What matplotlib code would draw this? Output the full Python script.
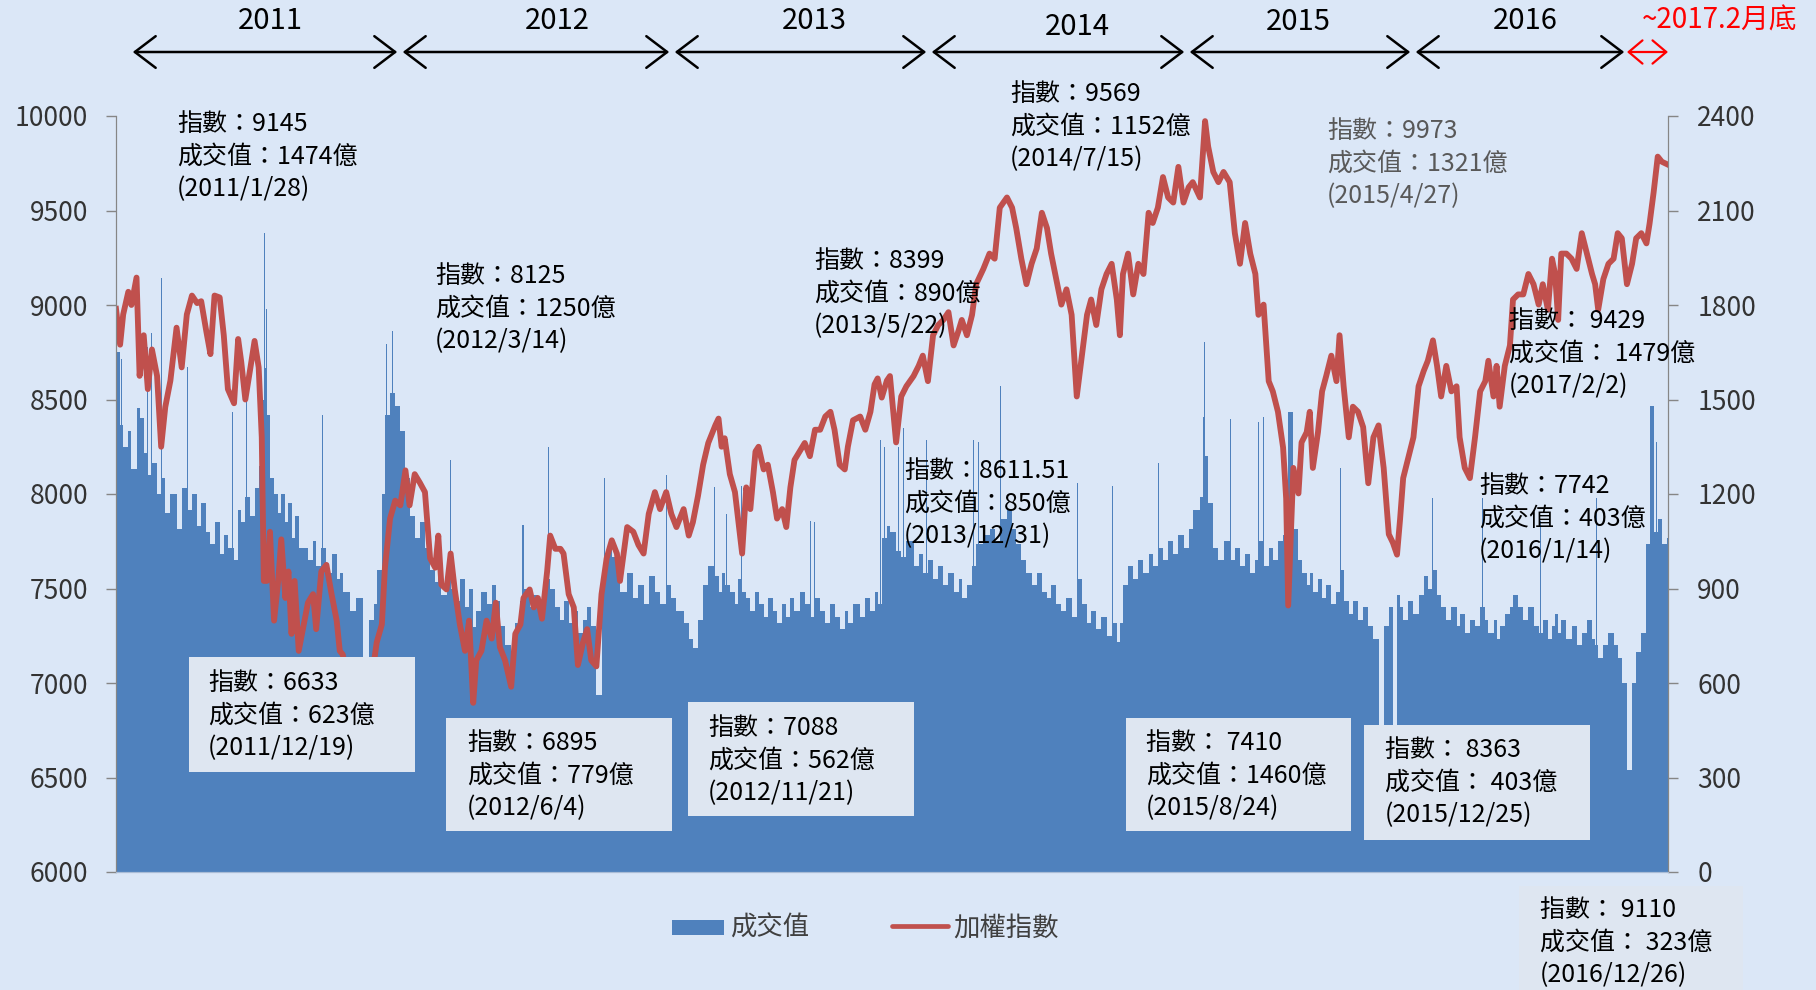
import numpy as np
import matplotlib.pyplot as plt
from matplotlib.patches import Rectangle, FancyArrowPatch
from matplotlib.lines import Line2D

plt.rcParams['font.family'] = ['Noto Sans CJK TC', 'DejaVu Sans']

# trading-day number (0 = 2011/1/3) with the weighted index and turnover (億)
day = [0, 4, 7, 12, 15, 20, 23, 27, 31, 35, 40, 44, 48, 53, 59, 64, 69, 74, 79, 83,
       88, 92, 96, 101, 105, 109, 115, 119, 122, 126, 131, 135, 139, 142, 144, 147, 150, 154, 158, 161,
       165, 168, 171, 174, 178, 187, 192, 195, 200, 205, 210, 215, 218, 221, 228, 234, 241, 246, 251, 254,
       259, 262, 267, 272, 277, 282, 286, 291, 296, 301, 306, 311, 314, 317, 322, 326, 330, 335, 340, 344,
       348, 351, 356, 361, 366, 370, 374, 379, 385, 389, 394, 397, 403, 407, 411, 415, 420, 423, 428, 433,
       436, 441, 446, 450, 455, 459, 463, 468, 473, 478, 483, 488, 491, 498, 504, 509, 514, 519, 525, 530,
       536, 541, 546, 553, 558, 562, 567, 572, 577, 584, 587, 590, 593, 598, 603, 606, 610, 614, 618, 623,
       626, 631, 635, 640, 644, 649, 653, 657, 661, 666, 671, 676, 681, 686, 691, 696, 700, 705, 710, 713,
       718, 725, 730, 735, 739, 742, 746, 751, 754, 760, 765, 770, 777, 782, 786, 791, 796, 801, 806, 811,
       816, 821, 824, 829, 834, 838, 845, 851, 856, 861, 868, 873, 877, 882, 887, 892, 897, 902, 907, 911,
       916, 921, 926, 931, 936, 941, 946, 950, 955, 960, 965, 970, 975, 978, 981, 986, 991, 996, 1001, 1006,
       1010, 1015, 1020, 1025, 1030, 1035, 1040, 1045, 1049, 1056, 1061, 1064, 1069, 1074, 1079, 1085, 1090, 1095, 1100, 1105,
       1110, 1113, 1118, 1123, 1127, 1132, 1137, 1140, 1142, 1147, 1152, 1155, 1160, 1163, 1166, 1171, 1175, 1179, 1184, 1189,
       1192, 1196, 1201, 1205, 1210, 1215, 1220, 1225, 1230, 1235, 1240, 1244, 1248, 1251, 1254, 1259, 1264, 1269, 1274, 1278,
       1283, 1287, 1291, 1296, 1301, 1306, 1309, 1314, 1319, 1324, 1329, 1334, 1337, 1342, 1345, 1348, 1353, 1358, 1361, 1366,
       1371, 1376, 1381, 1386, 1390, 1395, 1399, 1402, 1405, 1408, 1413, 1418, 1423, 1428, 1433, 1438, 1441, 1444, 1449, 1454,
       1459, 1463, 1467, 1472, 1477, 1481, 1486, 1491, 1494, 1498, 1502, 1506, 1511]

taiex = [8980, 8790, 8950, 9070, 9000, 9145, 8625, 8840, 8555, 8765, 8625, 8250, 8460, 8600, 8880, 8670, 8950, 9050, 9010, 9020,
         8860, 8740, 9050, 9040, 8840, 8555, 8480, 8820, 8700, 8500, 8670, 8810, 8670, 8300, 7540, 7540, 7800, 7330, 7540, 7760,
         7450, 7590, 7260, 7540, 7170, 7425, 7470, 7285, 7590, 7625, 7470, 7330, 7170, 7150, 6900, 6750, 6633, 6950, 7100, 7215,
         7310, 7610, 7870, 7965, 7940, 8125, 7940, 8105, 8060, 8010, 7660, 7610, 7780, 7520, 7495, 7685, 7495, 7310, 7170, 7330,
         6895, 7120, 7170, 7330, 7235, 7425, 7190, 7120, 6980, 7260, 7310, 7450, 7495, 7400, 7450, 7340, 7590, 7780, 7710, 7710,
         7685, 7470, 7400, 7095, 7215, 7285, 7120, 7088, 7470, 7660, 7755, 7685, 7540, 7825, 7800, 7730, 7685, 7895, 8010, 7920,
         8010, 7895, 7825, 7920, 7780, 7850, 7990, 8155, 8270, 8365, 8399, 8250, 8295, 8105, 8010, 7870, 7685, 8035, 7920, 8225,
         8250, 8130, 8155, 8010, 7870, 7920, 7825, 8035, 8180, 8225, 8270, 8200, 8340, 8340, 8410, 8435, 8340, 8155, 8130, 8250,
         8390, 8410, 8340, 8435, 8580, 8611.51, 8510, 8600, 8624, 8273, 8516, 8570, 8624, 8678, 8732, 8597, 8840, 8894, 8921, 8962,
         8786, 8867, 8921, 8840, 8948, 9110, 9191, 9272, 9245, 9515, 9569, 9515, 9407, 9245, 9110, 9218, 9299, 9488, 9407, 9272,
         9137, 9002, 9083, 8948, 8516, 8732, 8948, 9029, 8894, 9083, 9164, 9218, 9029, 8840, 9164, 9272, 9056, 9218, 9164, 9488,
         9434, 9515, 9677, 9569, 9542, 9731, 9542, 9623, 9650, 9569, 9973, 9839, 9704, 9650, 9704, 9650, 9380, 9218, 9434, 9272,
         9164, 8948, 9002, 8597, 8543, 8435, 8246, 7976, 7410, 8138, 8003, 8273, 8327, 8435, 8138, 8327, 8543, 8624, 8732, 8597,
         8840, 8570, 8300, 8462, 8435, 8354, 8057, 8300, 8363, 8138, 7787, 7742, 7679, 7868, 8084, 8192, 8300, 8570, 8651, 8705,
         8813, 8678, 8516, 8678, 8543, 8570, 8300, 8138, 8084, 8300, 8543, 8597, 8705, 8516, 8678, 8462, 8678, 8786, 9029, 9056,
         9056, 9164, 9110, 9002, 9110, 8975, 9245, 9164, 8921, 9272, 9272, 9245, 9191, 9380, 9272, 9164, 9110, 8975, 9137, 9218,
         9245, 9380, 9353, 9110, 9218, 9353, 9380, 9326, 9429, 9596, 9785, 9758, 9745]

turnover = [1650, 1420, 1350, 1400, 1280, 1474, 1440, 1330, 1260, 1300, 1200, 1250, 1140, 1200, 1090, 1220, 1150, 1200, 1100, 1170,
            1080, 1040, 1110, 1010, 1070, 1030, 990, 1150, 1110, 1190, 1130, 1220, 1290, 1500, 1600, 1450, 1250, 1200, 1140, 1200,
            1110, 1170, 1060, 1130, 1030, 990, 1050, 970, 1030, 950, 1010, 930, 950, 890, 830, 870, 623, 800, 850, 960,
            1200, 1450, 1520, 1480, 1400, 1250, 1130, 1060, 1110, 1030, 960, 920, 980, 880, 940, 900, 860, 930, 840, 900,
            779, 830, 890, 850, 910, 860, 780, 720, 700, 790, 860, 900, 840, 880, 820, 870, 930, 900, 840, 800,
            860, 790, 830, 760, 800, 840, 780, 562, 960, 1030, 1000, 960, 890, 950, 870, 910, 850, 940, 890, 850,
            910, 870, 830, 790, 740, 710, 800, 910, 970, 940, 890, 950, 910, 890, 850, 930, 890, 870, 830, 890,
            850, 810, 870, 830, 790, 850, 810, 870, 830, 890, 850, 810, 870, 830, 790, 850, 810, 770, 830, 790,
            850, 810, 870, 830, 890, 850, 1060, 1100, 1080, 1020, 1000, 1050, 970, 1010, 950, 990, 930, 970, 910, 950,
            890, 930, 870, 910, 970, 1040, 1070, 1090, 1050, 1120, 1152, 1090, 1040, 990, 950, 910, 950, 890, 870, 910,
            850, 830, 870, 810, 930, 850, 790, 830, 770, 810, 750, 790, 730, 790, 910, 970, 930, 990, 950, 1010,
            970, 1030, 990, 1050, 1010, 1070, 1030, 1090, 1150, 1190, 1321, 1170, 1030, 990, 1050, 990, 1030, 970, 1010, 950,
            990, 1050, 970, 1030, 990, 1050, 1070, 1180, 1460, 1090, 990, 950, 910, 950, 890, 930, 870, 910, 850, 890,
            960, 860, 820, 860, 800, 840, 780, 740, 403, 780, 840, 403, 880, 840, 800, 860, 820, 880, 940, 900,
            960, 880, 840, 800, 840, 780, 820, 760, 800, 780, 840, 800, 760, 800, 740, 780, 820, 840, 880, 840,
            800, 840, 780, 760, 800, 740, 780, 820, 760, 800, 740, 780, 720, 760, 800, 740, 720, 680, 720, 760,
            720, 680, 600, 323, 600, 700, 760, 1040, 1479, 1080, 1120, 1040, 1060]

# single sessions that stand well above the surrounding turnover
spike_day = [5, 30, 34, 44, 69, 113, 127, 144, 146, 201, 263, 269, 325, 396, 421, 475, 536, 583, 594, 609,
             676, 680, 744, 748, 762, 767, 789, 835, 840, 861, 936, 970, 1015, 1059, 1060, 1085, 1113, 1117, 1192, 1282,
             1331, 1387, 1442, 1500]
spike_val = [1630, 1666, 1710, 1886, 1604, 1460, 1555, 2027, 1787, 1450, 1675, 1717, 1307, 1103, 1350, 1251, 1260, 1223, 1138, 1225,
             1115, 1110, 1370, 1350, 1349, 1410, 1370, 1370, 1365, 1543, 1235, 1225, 1300, 1446, 1681, 1438, 1430, 1445, 1284, 1187,
             1188, 1115, 1188, 1365]

years = ['2011', '2012', '2013', '2014', '2015', '2016']

BG = '#DBE7F7'
BOX = '#DEE6F1'
BLUE = '#4F81BD'
RED = '#C0504D'
GREY = '#868686'

W, H = 1816, 990
fig = plt.figure(figsize=(W / 100, H / 100), dpi=100, facecolor=BG)


def fx(x):
    return x / W


def fy(y):
    return 1 - y / H


ax = fig.add_axes([fx(116), fy(872), (1668 - 116) / W, (872 - 116) / H])
ax.set_facecolor(BG)
ax2 = ax.twinx()

# turnover bars (right axis)
day_arr = np.array(day)
widths = np.diff(np.append(day_arr, 1512))
ax.bar(day_arr, turnover, width=widths, align='edge', color=BLUE, linewidth=0)
ax.bar(spike_day, spike_val, width=1.0, align='edge', color=BLUE, linewidth=0)
ax.set_ylim(0, 2400)
ax.set_yticks(np.arange(0, 2401, 300))
ax.yaxis.set_ticks_position('right')
ax.set_xlim(0, 1512)
ax.set_xticks([])

# weighted index (left axis)
ax2.plot(day, taiex, color=RED, lw=4.2, solid_joinstyle='round')
ax2.set_ylim(6000, 10000)
ax2.set_yticks(np.arange(6000, 10001, 500))
ax2.yaxis.set_ticks_position('left')
ax2.set_xlim(0, 1512)

for a in (ax, ax2):
    a.spines['top'].set_visible(False)
    a.spines['left'].set_color(GREY)
    a.spines['right'].set_color(GREY)
    a.spines['bottom'].set_color('#A9BCD6')
ax.tick_params(axis='y', direction='out', length=7, width=1, color=GREY,
               labelsize=19, labelcolor='#333333', pad=14)
ax2.tick_params(axis='y', direction='out', length=7, width=1, color=GREY,
                labelsize=19, labelcolor='#333333', pad=13)

# year spans across the top
year_x = [270, 557, 814, 1077, 1298, 1525]
year_y = [21, 21, 21, 27, 22, 21]
for lab, x, y in zip(years, year_x, year_y):
    fig.text(fx(x), fy(y), lab, ha='center', va='center', fontsize=21, color='black')
fig.text(fx(1642), fy(21), '~2017.2月底', ha='left', va='center', fontsize=20, color='#FF0000')

bounds = [130, 400, 672, 929, 1187, 1413, 1627]
for x1, x2 in zip(bounds[:-1], bounds[1:]):
    fig.add_artist(FancyArrowPatch(
        (fx(x1), fy(52)), (fx(x2), fy(52)), transform=fig.transFigure,
        arrowstyle='<->,head_length=0.5,head_width=0.38', mutation_scale=30,
        color='black', lw=1.8))
fig.add_artist(FancyArrowPatch(
    (fx(1627), fy(52)), (fx(1668), fy(52)), transform=fig.transFigure,
    arrowstyle='<->,head_length=0.45,head_width=0.38', mutation_scale=22,
    color='#FF0000', lw=1.6, shrinkA=0, shrinkB=0))


def note(x, y, lines, color='black', box=None):
    if box is not None:
        x0, y0, x1, y1 = box
        fig.add_artist(Rectangle((fx(x0), fy(y1)), (x1 - x0) / W, (y1 - y0) / H,
                                 transform=fig.transFigure, facecolor=BOX,
                                 edgecolor='none', zorder=5))
    for i, s in enumerate(lines):
        fig.text(fx(x), fy(y + i * 32.4), s, ha='left', va='center',
                 fontsize=18, color=color, zorder=6)


note(177, 124, ['指數：9145', '成交值：1474億', '(2011/1/28)'])
note(208, 683, ['指數：6633', '成交值：623億', '(2011/12/19)'], box=(189, 657, 415, 772))
note(435, 276, ['指數：8125', '成交值：1250億', '(2012/3/14)'])
note(467, 743, ['指數：6895', '成交值：779億', '(2012/6/4)'], box=(446, 718, 672, 831))
note(708, 728, ['指數：7088', '成交值：562億', '(2012/11/21)'], box=(688, 702, 914, 816))
note(814, 261, ['指數：8399', '成交值：890億', '(2013/5/22)'])
note(904, 471, ['指數：8611.51', '成交值：850億', '(2013/12/31)'])
note(1010, 94, ['指數：9569', '成交值：1152億', '(2014/7/15)'])
note(1327, 131, ['指數：9973', '成交值：1321億', '(2015/4/27)'], color='#595959')
note(1146, 743, ['指數： 7410', '成交值：1460億', '(2015/8/24)'], box=(1126, 718, 1351, 831))
note(1385, 750, ['指數： 8363', '成交值： 403億', '(2015/12/25)'], box=(1364, 725, 1590, 840))
note(1509, 321, ['指數： 9429', '成交值： 1479億', '(2017/2/2)'])
note(1479, 486, ['指數：7742', '成交值：403億', '(2016/1/14)'])
note(1540, 910, ['指數： 9110', '成交值： 323億', '(2016/12/26)'], box=(1519, 886, 1743, 990))

# legend
fig.add_artist(Rectangle((fx(672), fy(935)), 52 / W, 15 / H, transform=fig.transFigure,
                         facecolor=BLUE, edgecolor='none'))
fig.text(fx(730), fy(928), '成交值', ha='left', va='center', fontsize=19, color='#404040')
fig.add_artist(Line2D([fx(892), fx(948)], [fy(926), fy(926)], transform=fig.transFigure,
                      color=RED, lw=3.4, solid_capstyle='round'))
fig.text(fx(953), fy(928), '加權指數', ha='left', va='center', fontsize=19, color='#404040')

fig.savefig('out.png', dpi=100, facecolor=BG)
